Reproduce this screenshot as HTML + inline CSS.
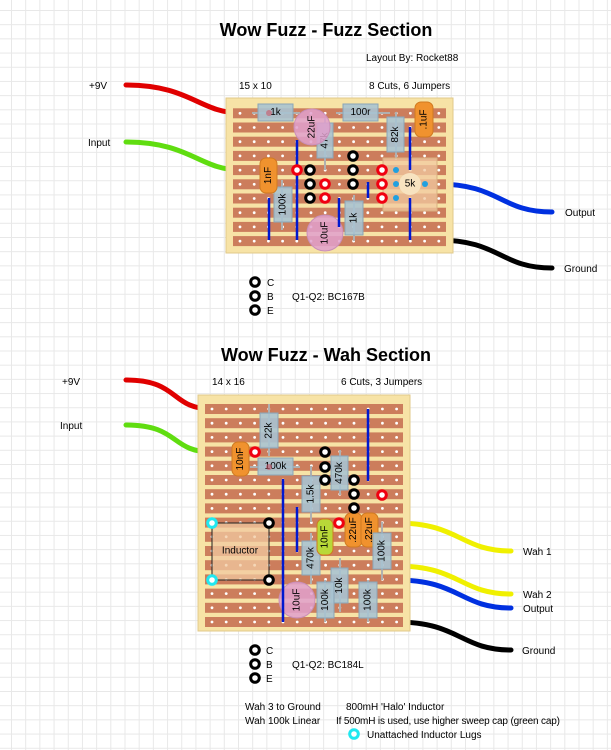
<!DOCTYPE html>
<html><head><meta charset="utf-8"><style>
html,body{margin:0;padding:0;background:#fff}
#c{position:relative;width:611px;height:750px;overflow:hidden;
background-color:#fff;
background-image:linear-gradient(#e8e8e8 1px,transparent 1px),linear-gradient(90deg,#e8e8e8 1px,transparent 1px);
background-size:14.2px 14.2px;background-position:11px 10px;}
svg{position:absolute;left:0;top:0}
text{font-family:"Liberation Sans",sans-serif;}
</style></head><body><div id="c">
<svg id="s" width="611" height="750" xmlns="http://www.w3.org/2000/svg">
<g font-size="10" fill="#000">
<text x="326" y="36" font-size="18" font-weight="bold" text-anchor="middle">Wow Fuzz - Fuzz Section</text>
<text x="366" y="61">Layout By: Rocket88</text>
<text x="89" y="89">+9V</text>
<text x="239" y="89">15 x 10</text>
<text x="369" y="89">8 Cuts, 6 Jumpers</text>
<text x="88" y="146">Input</text>
<text x="565" y="216">Output</text>
<text x="564" y="272">Ground</text>
<text x="267" y="286">C</text><text x="267" y="300">B</text><text x="267" y="314">E</text>
<text x="292" y="300">Q1-Q2: BC167B</text>
<text x="326" y="361" font-size="18" font-weight="bold" text-anchor="middle">Wow Fuzz - Wah Section</text>
<text x="62" y="385">+9V</text>
<text x="212" y="385">14 x 16</text>
<text x="341" y="385">6 Cuts, 3 Jumpers</text>
<text x="60" y="429">Input</text>
<text x="523" y="555">Wah 1</text>
<text x="523" y="598">Wah 2</text>
<text x="523" y="612">Output</text>
<text x="522" y="654">Ground</text>
<text x="266" y="654">C</text><text x="266" y="668">B</text><text x="266" y="682">E</text>
<text x="292" y="668">Q1-Q2: BC184L</text>
<text x="245" y="710">Wah 3 to Ground</text>
<text x="346" y="710">800mH 'Halo' Inductor</text>
<text x="245" y="724">Wah 100k Linear</text>
<text x="336" y="724" textLength="224">If 500mH is used, use higher sweep cap (green cap)</text>
<text x="367" y="738">Unattached Inductor Lugs</text>
</g>
</svg></div>
<script>
var s=document.getElementById('s'),NS='http://www.w3.org/2000/svg';
function el(t,a,p){var e=document.createElementNS(NS,t);for(var k in a)e.setAttribute(k,a[k]);(p||s).appendChild(e);return e;}
function tx(x,y,t,rot,fs){var e=el('text',{x:x,y:y,'font-size':fs||10,'text-anchor':'middle','dominant-baseline':'central',fill:'#000'});if(rot)e.setAttribute('transform','rotate(-90 '+x+' '+y+')');e.textContent=t;return e;}
function ring(x,y,c){el('circle',{cx:x,cy:y,r:4.3,fill:'#fff',stroke:c,'stroke-width':3});}
function wire(d,c){el('path',{d:d,fill:'none',stroke:c,'stroke-width':5,'stroke-linecap':'round'});}
function board(bx,by,bw,bh,x0,y0,nc,nr){
 el('rect',{x:bx,y:by,width:bw,height:bh,fill:'#f7e3a6',stroke:'#e0c98a'});
 for(var r=0;r<nr;r++){var y=y0+14.2*r;
  el('rect',{x:bx+7,y:y-5,width:bw-14,height:10,fill:'#cc7d5c'});
  for(var c=0;c<nc;c++)el('circle',{cx:x0+14.2*c,cy:y,r:1.4,fill:'#fff'});}
}
function res(x,y,w,h,lab,vert){el('rect',{x:x,y:y,width:w,height:h,fill:'#a9c3d2','fill-opacity':0.9,stroke:'#8aa6b8'});tx(x+w/2,y+h/2,lab,vert,10);}
function cap(x,y,w,h,lab,col){el('rect',{x:x,y:y,width:w,height:h,rx:6,fill:col||'#f0922e',stroke:'#d07a20'});tx(x+w/2,y+h/2,lab,true,10);}
function ecap(x,y,lab){el('circle',{cx:x,cy:y,r:18,fill:'#e0a0cc','fill-opacity':0.85,stroke:'#c98fb8'});tx(x,y,lab,true,10);}
function link(x,y1,y2){el('line',{x1:x,y1:y1,x2:x,y2:y2,stroke:'#0018d0','stroke-width':2.5});}
function lead(x1,y1,x2,y2){el('line',{x1:x1,y1:y1,x2:x2,y2:y2,stroke:'#b0b0b0','stroke-width':2});}
wire('M126,85 C190,85 200,113 240,113','#e00000');
wire('M126,142 C190,142 200,170 240,170','#60dd10');
wire('M437,184 C500,184 500,212 552,212','#0030e0');
wire('M437,240 C500,240 500,268 552,268','#000');
board(226,98,227,155,240,113.3,15,10);
lead(252,113,300,113);res(258,104,35,17,'1k');el('circle',{cx:269,cy:113,r:3,fill:'#c56',opacity:.6});
lead(336,113,390,113);res(343,104,35,17,'100r');
lead(325,118,325,170);res(317,123,16,35,'47k',1);
ecap(312,127,'22uF');
lead(396,112,396,160);res(387,117,17,35,'82k',1);
cap(415,102,18,35,'.1uF');
lead(282,180,282,230);res(274,187,18,35,'100k',1);
cap(260,158,17,35,'1nF');
lead(354,195,354,241);res(345,201,18,34,'1k',1);
ecap(325,233,'10uF');
el('rect',{x:383,y:158,width:54,height:53,fill:'#f2c9a0','fill-opacity':.75,stroke:'#d8b080'});
el('circle',{cx:410,cy:184,r:11,fill:'#f7e3c0'});tx(410,184,'5k',0,10);
link(297,140,240);link(269,198,240);link(368,182,198);link(339,198,227);link(410,127,170);link(410,198,240);
[[353,156],[353,170],[353,184],[310,170],[310,184],[310,198]].forEach(p=>ring(p[0],p[1],'#000'));
[[297,170],[325,184],[325,198],[382,170],[382,184],[382,198]].forEach(p=>ring(p[0],p[1],'#f00010'));
[[396,170],[396,184],[396,198],[425,184]].forEach(p=>el('circle',{cx:p[0],cy:p[1],r:3,fill:'#20a0e0'}));
ring(255,282,'#000');ring(255,296,'#000');ring(255,310,'#000');
wire('M126,380 C180,380 170,409 212,409','#e00000');
wire('M126,425 C180,425 170,452 212,452','#60dd10');
wire('M396,523 C460,523 460,551 511,551','#f0f000');
wire('M396,566 C460,566 460,594 511,594','#f0f000');
wire('M396,580 C460,580 460,608 511,608','#0030e0');
wire('M396,622 C460,622 460,650 511,650','#000');
board(198,395,212,236,212,409,14,16);
lead(269,404,269,456);res(260,413,18,35,'22k',1);
lead(250,467,300,467);res(258,458,35,17,'100k');el('circle',{cx:269,cy:467,r:3,fill:'#c56',opacity:.6});
cap(232,442,17,34,'10nF');
lead(340,450,340,495);res(331,456,17,34,'470k',1);
lead(311,466,311,522);res(302,476,18,36,'1.5k',1);
cap(345,513,17,34,'.22uF');cap(361,513,17,34,'.22uF');
lead(382,522,382,580);res(373,533,18,36,'100k',1);
lead(311,533,311,584);res(302,541,18,34,'470k',1);
cap(317,519,16,36,'10nF','#b8d838');
lead(340,558,340,612);res(331,568,17,35,'10k',1);
lead(325,580,325,622);res(317,582,17,36,'100k',1);
lead(368,580,368,622);res(359,582,18,36,'100k',1);
ecap(297,600,'10uF');
el('rect',{x:212,y:523,width:57,height:57,fill:'#f2c9a0','fill-opacity':.75,stroke:'#222'});tx(240,551,'Inductor',0,10);
link(283,479,622);link(297,507,552);link(368,409,481);
[[325,452],[325,467],[325,480],[354,480],[354,494],[354,508],[269,523],[269,580]].forEach(p=>ring(p[0],p[1],'#000'));
[[255,452],[382,495],[339,523]].forEach(p=>ring(p[0],p[1],'#f00010'));
ring(212,523,'#20e8f0');ring(212,580,'#20e8f0');
ring(255,650,'#000');ring(255,664,'#000');ring(255,678,'#000');
ring(354,734,'#20e8f0');
</script>
</body></html>
